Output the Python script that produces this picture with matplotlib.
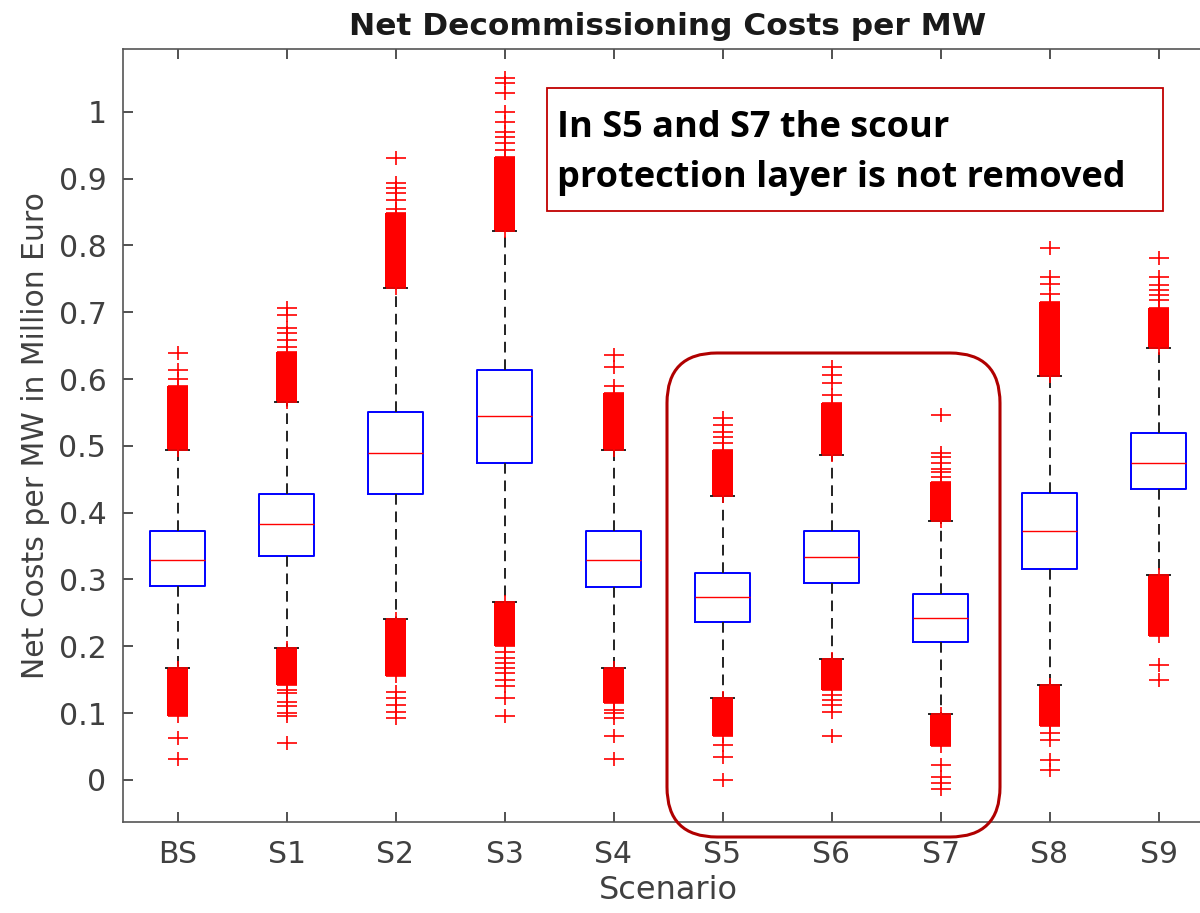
import numpy as np
import matplotlib
matplotlib.use('Agg')
import matplotlib.pyplot as plt
from matplotlib.path import Path
from matplotlib.patches import FancyBboxPatch, Rectangle

# box statistics (million euro per MW)
scenarios = ['BS', 'S1', 'S2', 'S3', 'S4', 'S5', 'S6', 'S7', 'S8', 'S9']
q1 = [0.290, 0.335, 0.428, 0.474, 0.289, 0.236, 0.295, 0.207, 0.316, 0.435]
med = [0.329, 0.383, 0.489, 0.544, 0.329, 0.274, 0.333, 0.242, 0.373, 0.475]
q3 = [0.373, 0.428, 0.551, 0.614, 0.373, 0.310, 0.373, 0.278, 0.430, 0.519]
whislo = [0.167, 0.197, 0.241, 0.266, 0.167, 0.122, 0.181, 0.099, 0.142, 0.307]
whishi = [0.494, 0.566, 0.736, 0.822, 0.494, 0.425, 0.487, 0.387, 0.604, 0.646]

# ranges where the outliers are so dense they form a solid block
up_dense_lo = [0.494, 0.566, 0.736, 0.822, 0.494, 0.425, 0.487, 0.387, 0.604, 0.646]
up_dense_hi = [0.589, 0.641, 0.849, 0.933, 0.579, 0.494, 0.564, 0.446, 0.716, 0.706]
low_dense_lo = [0.095, 0.142, 0.155, 0.200, 0.115, 0.065, 0.135, 0.051, 0.080, 0.215]
low_dense_hi = [0.167, 0.197, 0.241, 0.266, 0.167, 0.122, 0.181, 0.099, 0.142, 0.307]

# single outliers outside the blocks
fliers = [
    [0.600, 0.614, 0.639, 0.062, 0.032],
    [0.648, 0.659, 0.669, 0.677, 0.696, 0.707, 0.135, 0.130, 0.117, 0.110, 0.100, 0.095, 0.055],
    [0.855, 0.868, 0.878, 0.886, 0.893, 0.931, 0.132, 0.122, 0.112, 0.102, 0.092],
    [0.943, 0.953, 0.963, 0.970, 0.985, 1.000, 1.028, 1.043, 1.050,
     0.192, 0.182, 0.175, 0.167, 0.160, 0.150, 0.140, 0.122, 0.095],
    [0.589, 0.618, 0.636, 0.105, 0.100, 0.092, 0.065, 0.032],
    [0.504, 0.514, 0.521, 0.531, 0.541, 0.052, 0.035, 0.0],
    [0.576, 0.594, 0.606, 0.618, 0.127, 0.120, 0.112, 0.102, 0.065],
    [0.454, 0.461, 0.466, 0.474, 0.484, 0.489, 0.546, 0.022, 0.005, -0.005, -0.013],
    [0.728, 0.743, 0.753, 0.796, 0.070, 0.060, 0.030, 0.015],
    [0.719, 0.726, 0.734, 0.741, 0.753, 0.781, 0.172, 0.150],
]

note_lines = ['In S5 and S7 the scour', 'protection layer is not removed']

plt.rcParams['font.family'] = 'DejaVu Sans'
txtcol = '#404040'

fig = plt.figure(figsize=(12, 9.13), dpi=100)
ax = fig.add_axes([123/1200, 1-822/913, (1213-123)/1200, (822-49)/913])

pos = np.arange(1, len(scenarios)+1)

# wide plus marker like the matlab '+'
plus = Path([(-1, 0), (1, 0), (0, -0.65), (0, 0.65)],
            [Path.MOVETO, Path.LINETO, Path.MOVETO, Path.LINETO])

stats = []
for i in range(len(scenarios)):
    fl = list(fliers[i]) + [up_dense_lo[i], up_dense_hi[i], low_dense_lo[i], low_dense_hi[i]]
    stats.append(dict(med=med[i], q1=q1[i], q3=q3[i], whislo=whislo[i],
                      whishi=whishi[i], fliers=fl, label=scenarios[i]))

# solid blocks of outliers
ax.bar(pos, np.array(up_dense_hi)-np.array(up_dense_lo), bottom=up_dense_lo,
       width=0.19, color='red', zorder=2)
ax.bar(pos, np.array(low_dense_hi)-np.array(low_dense_lo), bottom=low_dense_lo,
       width=0.19, color='red', zorder=2)

ax.bxp(stats, positions=pos, widths=0.5, capwidths=0.22,
       boxprops=dict(color='blue', lw=1.4),
       medianprops=dict(color='red', lw=1.0),
       whiskerprops=dict(color='#222222', lw=1.4, linestyle=(0, (5.5, 3.5))),
       capprops=dict(color='#222222', lw=1.4),
       flierprops=dict(marker=plus, markersize=15, markeredgecolor='red',
                       markeredgewidth=1.2, markerfacecolor='none', linestyle='none'))

ax.set_xlim(0.5, 10.5)
ax.set_ylim(-0.063, 1.094)
ax.set_yticks(np.arange(0, 1.01, 0.1))
ax.set_yticklabels(['0', '0.1', '0.2', '0.3', '0.4', '0.5', '0.6', '0.7', '0.8', '0.9', '1'])
ax.set_xticks(pos)
ax.set_xticklabels(scenarios)

for s in ['left', 'bottom', 'top']:
    ax.spines[s].set_color('#555555')
    ax.spines[s].set_linewidth(1.2)
ax.spines['right'].set_visible(False)
ax.tick_params(direction='in', length=7, width=1.2, color='#333333',
               labelsize=21.5, labelcolor=txtcol, top=True, right=True)
ax.tick_params(axis='x', pad=13)
ax.tick_params(axis='y', pad=12)

ax.set_title('Net Decommissioning Costs per MW', fontsize=22.5, fontweight='bold',
             color='#1a1a1a', pad=10)
ax.set_xlabel('Scenario', fontsize=23, color=txtcol, labelpad=4)
ax.set_ylabel('Net Costs per MW in Million Euro', fontsize=21.5, color=txtcol, labelpad=6)

# note box and highlight around S5-S7 (placed in inches on the figure)
box = Rectangle((5.47, 7.02), 6.16, 1.23, transform=fig.dpi_scale_trans,
                facecolor='white', edgecolor='#c00000', lw=1.3, zorder=5)
fig.patches.append(box)
fig.text(5.57, 9.13-1.37, note_lines[0], transform=fig.dpi_scale_trans,
         fontsize=26, fontweight='bold', family='Open Sans', va='baseline', zorder=6)
fig.text(5.57, 9.13-1.87, note_lines[1], transform=fig.dpi_scale_trans,
         fontsize=26, fontweight='bold', family='Open Sans', va='baseline', zorder=6)

hl = FancyBboxPatch((6.67 + 0.02, 0.76 + 0.02), 3.33 - 0.04, 4.84 - 0.04,
                    boxstyle='round,pad=0.02,rounding_size=0.5',
                    transform=fig.dpi_scale_trans, facecolor='none',
                    edgecolor='#b00000', lw=2.2, zorder=6)
fig.patches.append(hl)

fig.savefig('out.png', dpi=100)
